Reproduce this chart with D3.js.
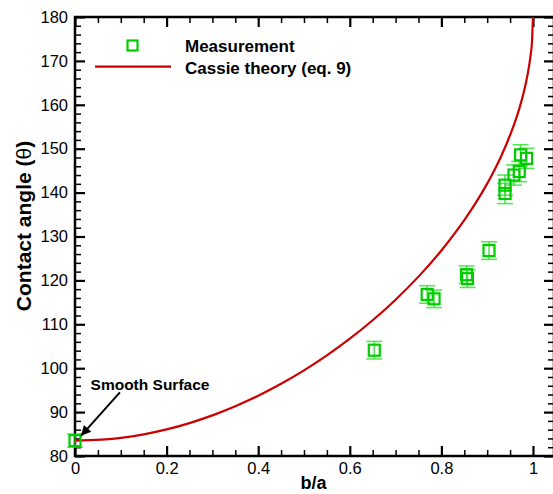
<!DOCTYPE html>
<html>
<head>
<meta charset="utf-8">
<script src="https://cdn.jsdelivr.net/npm/d3@7"></script>
<style>
  body { margin: 0; background: #fff; }
  svg { display: block; font-family: "Liberation Sans", Arial, Helvetica, sans-serif; }
  .tick text { font-size: 16.5px; fill: #000; }
  .domain { display: none; }
</style>
</head>
<body>
<svg width="553" height="494"></svg>
<script>
"use strict";

// measured points (b/a, contact angle, error)
const ratio = [0, 0.6535, 0.769, 0.784, 0.855, 0.857, 0.904, 0.939, 0.939, 0.9585, 0.97, 0.973, 0.986];
const angle = [83.5, 104.1, 116.8, 115.8, 121.3, 120.4, 126.8, 141.7, 139.8, 144.0, 144.8, 148.6, 147.8];
const angleErr = [1.5, 2.0, 2.0, 2.0, 2.0, 2.0, 2.0, 2.3, 2.3, 2.3, 2.3, 2.3, 2.3];

// Cassie theory curve
const theoryX = [0, 0.1, 0.15, 0.2, 0.25, 0.3, 0.35, 0.4, 0.45, 0.5, 0.55, 0.6, 0.65, 0.7, 0.75, 0.8,
  0.85, 0.875, 0.9, 0.91, 0.93, 0.95, 0.96, 0.97, 0.98, 0.985, 0.99, 0.995, 0.998, 1.0];
const theoryY = [83.5, 84.14, 84.94, 86.06, 87.5, 89.26, 91.33, 93.72, 96.44, 99.5, 102.91, 106.71, 110.92,
  115.61, 120.86, 126.81, 133.72, 137.65, 142.05, 143.96, 148.18, 153.07, 155.87, 159.08, 162.93, 165.2,
  167.94, 171.45, 174.6, 180];

const xMajor = [0, 0.2, 0.4, 0.6, 0.8, 1];
const yMajor = [80, 90, 100, 110, 120, 130, 140, 150, 160, 170, 180];
const legendLabels = ["Measurement", "Cassie theory (eq. 9)"];
const note = "Smooth Surface";

const green = "#00cc00";
const red = "#cc0000";

const svg = d3.select("svg");
const m = { left: 75, right: 554, top: 17, bottom: 456 };

const x = d3.scaleLinear().domain([0, 1.0459]).range([m.left, m.right]);
const y = d3.scaleLinear().domain([80, 180]).range([m.bottom, m.top]);

const xMinor = d3.range(0, 1.046, 0.05).filter(v => !xMajor.some(t => Math.abs(t - v) < 1e-6));
const yMinor = d3.range(80, 180.1, 2).filter(v => v % 10 !== 0);

const drawAxis = (axisFn, scale, transform, labels) => {
  const minor = scale === x ? xMinor : yMinor;
  const major = scale === x ? xMajor : yMajor;
  svg.append("g")
    .attr("transform", transform)
    .call(axisFn(scale).tickValues(minor).tickSize(-6).tickFormat(""))
    .selectAll("line").attr("stroke", "#000").attr("stroke-width", 1.5);
  const g = svg.append("g")
    .attr("transform", transform)
    .call(axisFn(scale).tickValues(major).tickSize(-10)
      .tickPadding(scale === x ? 6 : 7)
      .tickFormat(labels ? d3.format("") : ""));
  g.selectAll("line").attr("stroke", "#000").attr("stroke-width", 2.2);
};

drawAxis(d3.axisBottom, x, `translate(0,${m.bottom})`, true);
drawAxis(d3.axisTop, x, `translate(0,${m.top})`, false);
drawAxis(d3.axisLeft, y, `translate(${m.left},0)`, true);
drawAxis(d3.axisRight, y, `translate(${m.right},0)`, false);

// frame
svg.append("rect")
  .attr("x", m.left).attr("y", m.top)
  .attr("width", m.right - m.left).attr("height", m.bottom - m.top)
  .attr("fill", "none").attr("stroke", "#000").attr("stroke-width", 2.5);

// theory curve
const theory = theoryX.map((v, i) => [v, theoryY[i]]);
svg.append("path")
  .datum(theory)
  .attr("fill", "none")
  .attr("stroke", red)
  .attr("stroke-width", 2.2)
  .attr("d", d3.line().x(d => x(d[0])).y(d => y(d[1])).curve(d3.curveMonotoneX));

// measurements with error bars
const pts = ratio.map((v, i) => ({ r: v, a: angle[i], e: angleErr[i] }));
const cap = 8, half = 5.5;
const eb = svg.append("g")
  .attr("stroke", "#22dd22")
  .attr("stroke-opacity", 0.75)
  .attr("stroke-width", 1.6);
pts.forEach(d => {
  const cx = x(d.r), y0 = y(d.a - d.e), y1 = y(d.a + d.e);
  eb.append("line").attr("x1", cx).attr("x2", cx).attr("y1", y0).attr("y2", y1);
  eb.append("line").attr("x1", cx - cap).attr("x2", cx + cap).attr("y1", y0).attr("y2", y0);
  eb.append("line").attr("x1", cx - cap).attr("x2", cx + cap).attr("y1", y1).attr("y2", y1);
});
svg.append("g")
  .selectAll("rect")
  .data(pts)
  .join("rect")
  .attr("x", d => x(d.r) - half)
  .attr("y", d => y(d.a) - half)
  .attr("width", half * 2)
  .attr("height", half * 2)
  .attr("fill", "none")
  .attr("stroke", green)
  .attr("stroke-width", 2.2);

// legend
const legend = svg.append("g").attr("font-weight", "bold").attr("font-size", 17);
legend.append("rect")
  .attr("x", 127.5).attr("y", 40.5).attr("width", 10).attr("height", 10)
  .attr("fill", "none").attr("stroke", green).attr("stroke-width", 2.2);
legend.append("line")
  .attr("x1", 95).attr("x2", 171).attr("y1", 66.7).attr("y2", 66.7)
  .attr("stroke", red).attr("stroke-width", 2.2);
legend.selectAll("text")
  .data(legendLabels)
  .join("text")
  .attr("x", 185)
  .attr("y", (d, i) => 51.5 + i * 22)
  .text(d => d);

// annotation
svg.append("defs").append("marker")
  .attr("id", "arrow")
  .attr("viewBox", "0 0 10 10")
  .attr("refX", 10).attr("refY", 5)
  .attr("markerWidth", 6).attr("markerHeight", 5)
  .attr("markerUnits", "strokeWidth")
  .attr("orient", "auto")
  .append("path").attr("d", "M0,0L10,5L0,10z").attr("fill", "#000");

svg.append("line")
  .attr("x1", x(0.098)).attr("y1", y(94.5))
  .attr("x2", x(0.013)).attr("y2", y(84.6))
  .attr("stroke", "#000").attr("stroke-width", 2)
  .attr("marker-end", "url(#arrow)");

svg.append("text")
  .attr("x", x(0.034)).attr("y", y(95.0))
  .attr("font-weight", "bold").attr("font-size", 15.5)
  .text(note);

// axis titles
svg.append("text")
  .attr("x", (m.left + m.right) / 2 - 1).attr("y", 489)
  .attr("text-anchor", "middle")
  .attr("font-weight", "bold").attr("font-size", 18)
  .text("b/a");

const yt = svg.append("text")
  .attr("transform", `translate(31,226) rotate(-90)`)
  .attr("text-anchor", "middle")
  .attr("font-weight", "bold").attr("font-size", 21);
yt.append("tspan").text("Contact angle (");
yt.append("tspan").attr("font-weight", "normal").text("θ");
yt.append("tspan").text(")");
</script>
</body>
</html>
